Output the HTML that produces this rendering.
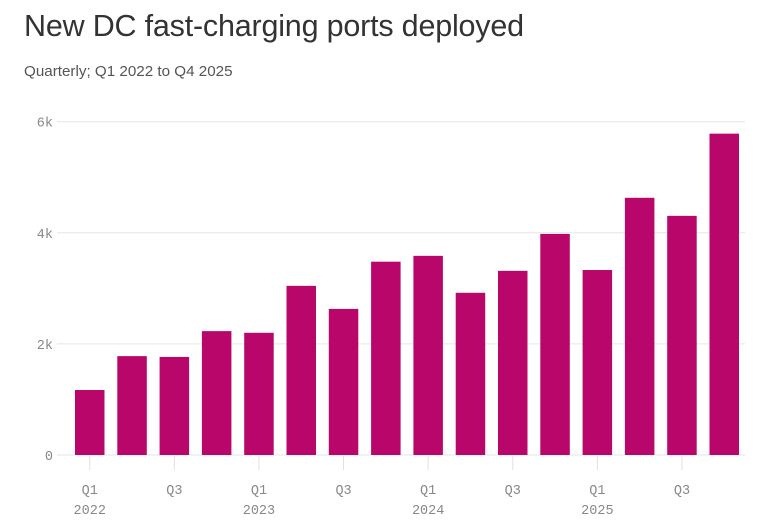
<!DOCTYPE html>
<html><head><meta charset="utf-8"><style>
body{margin:0;background:#fff;width:764px;height:520px;overflow:hidden;font-family:"Liberation Sans",sans-serif}
h1{position:absolute;left:24px;top:9px;margin:0;font-size:30.5px;font-weight:400;color:#333;letter-spacing:-0.2px}
.sub{position:absolute;left:24px;top:63px;font-size:15.2px;color:#555}
svg{position:absolute;left:0;top:0}
</style></head><body>
<h1>New DC fast-charging ports deployed</h1>
<div class="sub">Quarterly; Q1 2022 to Q4 2025</div>
<svg width="764" height="520">
<g id="grid"></g><g id="bars"></g><g id="xax"></g>
</svg>
<script>
const categories=["Q1 2022","Q2 2022","Q3 2022","Q4 2022","Q1 2023","Q2 2023","Q3 2023","Q4 2023","Q1 2024","Q2 2024","Q3 2024","Q4 2024","Q1 2025","Q2 2025","Q3 2025","Q4 2025"];
const values=[1170,1780,1765,2230,2200,3045,2630,3480,3585,2920,3315,3980,3330,4630,4305,5785];
const yTicks=[0,2000,4000,6000];
const yTickLabels=["0","2k","4k","6k"];
const xLabelIdx=[0,2,4,6,8,10,12,14];
const xLabelTop=["Q1","Q3","Q1","Q3","Q1","Q3","Q1","Q3"];
const xLabelYear=["2022","","2023","","2024","","2025",""];
const NS="http://www.w3.org/2000/svg";
const y=v=>455-v*(455-121.7)/6000;
const step=42.3,bw=29.5,x0=75;
const x=i=>x0+i*step;
function mk(t,a,p){const e=document.createElementNS(NS,t);for(const k in a)e.setAttribute(k,a[k]);p.appendChild(e);return e;}
const grid=document.getElementById('grid'),bars=document.getElementById('bars'),xax=document.getElementById('xax');
yTicks.forEach((v,i)=>{
 const l=mk('line',{x1:57,x2:745,y1:y(v),y2:y(v),stroke:'#e6e6e6','stroke-width':1},grid);
 
 
 const t=mk('text',{x:53,y:y(v)+5,'text-anchor':'end','font-size':13.5,fill:'#888','font-family':'Liberation Mono, monospace'},grid);
 t.textContent=yTickLabels[i];
 
 
});
values.forEach((v,i)=>{
 const r=mk('rect',{x:x(i),y:y(v),width:bw,height:y(0)-y(v),fill:'#b8066b'},bars);
 
 
});
xLabelIdx.forEach((idx,k)=>{
 const cx=x(idx)+bw/2;
 const tk=mk('line',{x1:cx,x2:cx,y1:456,y2:470,stroke:'#e0e0e0'},xax);
 
 
 const t=mk('text',{x:cx,y:494,'text-anchor':'middle','font-size':13.5,fill:'#888','font-family':'Liberation Mono, monospace'},xax);
 t.textContent=xLabelTop[k];
 
 
 if(xLabelYear[k]){
  const t2=mk('text',{x:cx,y:514,'text-anchor':'middle','font-size':13.5,fill:'#888','font-family':'Liberation Mono, monospace'},xax);
  t2.textContent=xLabelYear[k];
  
  
 }
});
</script>
</body></html>
